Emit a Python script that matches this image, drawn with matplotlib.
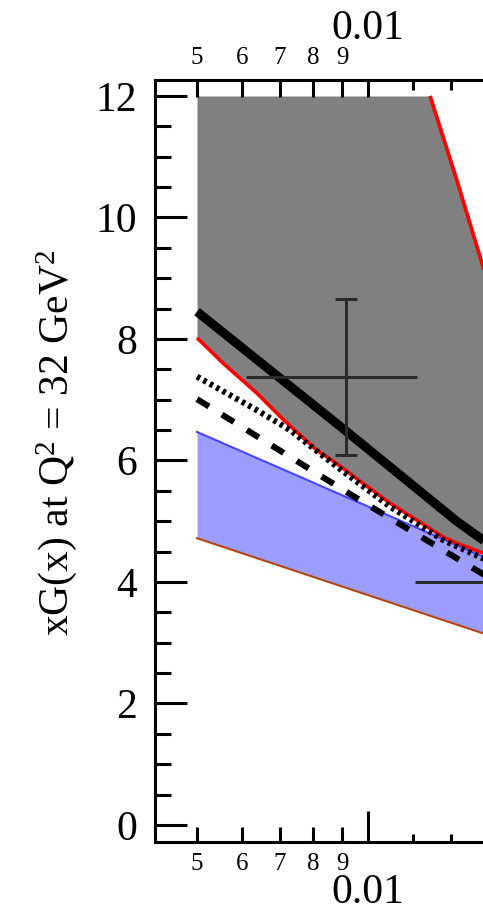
import matplotlib
matplotlib.use("Agg")
import matplotlib.pyplot as plt
from matplotlib.ticker import FixedLocator, FixedFormatter, MultipleLocator
import numpy as np

plt.rcParams['font.family'] = ['Liberation Serif', 'DejaVu Serif']
plt.rcParams['mathtext.fontset'] = 'custom'
plt.rcParams['mathtext.rm'] = 'Liberation Serif'
plt.rcParams['mathtext.it'] = 'Liberation Serif:italic'
plt.rcParams['mathtext.bf'] = 'Liberation Serif:bold'

# ---------------- data ----------------
# red lower edge of the grey band
red_lo_x = [0.005, 0.00556, 0.00637, 0.00710, 0.00812, 0.00881, 0.00981,
            0.01093, 0.01218, 0.01357, 0.01433, 0.016]
red_lo_y = [8.02, 7.60, 7.11, 6.67, 6.17, 5.95, 5.62,
            5.30, 5.02, 4.74, 4.64, 4.47]

# red upper edge of the grey band (visible part; band is cut at 12)
red_hi_x = [0.01286, 0.01433, 0.016]
red_hi_y = [12.0, 10.62, 9.14]
band_top = 12.0

# thick black solid curve
solid_x = [0.005, 0.00905, 0.01251, 0.01433, 0.016]
solid_y = [8.45, 6.52, 5.45, 5.00, 4.68]

# black dotted curve
dot_x = [0.005, 0.00637, 0.00729, 0.00881, 0.01093, 0.01357, 0.016]
dot_y = [7.38, 6.83, 6.50, 5.90, 5.24, 4.69, 4.38]

# black dashed curve
dash_x = [0.005, 0.0094, 0.016]
dash_y = [7.01, 5.42, 4.12]

# blue band
blue_x = [0.005, 0.016]
blue_hi = [6.47, 4.41]
blue_lo = [4.72, 3.15]

# data points with error bars
pt_x = [0.00914, 0.0182]
pt_y = [7.37, 4.00]
pt_xlo = [0.00609, 0.0121]
pt_xhi = [0.01222, 0.0240]
pt_ylo = [6.09, 3.40]
pt_yhi = [8.65, 4.60]

ylabel = r'xG(x) at Q$^2$ = 32 GeV$^2$'
xmajor = [0.01]
xmajor_lbl = ['0.01']
xminor = [0.005, 0.006, 0.007, 0.008, 0.009, 0.012, 0.014]
xminor_lbl = ['5', '6', '7', '8', '9', '', '']

# ---------------- figure ----------------
fig = plt.figure(figsize=(4.83, 9.11), dpi=100)
ax = fig.add_axes([155 / 483, 69 / 911, 328 / 483, 762 / 911])
ax.set_xscale('log')

band_x = np.array(sorted(set(red_lo_x) | set(red_hi_x)))
band_lo = np.interp(np.log(band_x), np.log(red_lo_x), red_lo_y)
band_hi = np.interp(np.log(band_x), np.log(red_hi_x), red_hi_y, left=band_top)

ax.fill_between(band_x, band_lo, band_hi, color='#808080', lw=0, zorder=1)
ax.fill_between(blue_x, blue_lo, blue_hi, color='#9d9dff', lw=0, zorder=1.5)
ax.plot(blue_x, blue_lo, color='#b5460f', lw=1.5, zorder=2)
ax.plot(blue_x, blue_hi, color='#4646ff', lw=1.5, zorder=2)
ax.plot(red_lo_x, red_lo_y, color='#ff0000', lw=2.6, zorder=3,
        solid_capstyle='butt', solid_joinstyle='round')
ax.plot(red_hi_x, red_hi_y, color='#ff0000', lw=2.7, zorder=3, solid_capstyle='butt')
ax.plot(dash_x, dash_y, color='black', lw=4.4, dashes=(2.3, 2.5),
        dash_capstyle='butt', zorder=4)
ax.plot(dot_x, dot_y, color='black', lw=4.3, dashes=(0.58, 0.65),
        dash_capstyle='butt', zorder=4.2)
ax.plot(solid_x, solid_y, color='black', lw=6.5, solid_capstyle='butt',
        solid_joinstyle='round', zorder=5)

px = np.array(pt_x); py = np.array(pt_y)
ax.errorbar(px, py, yerr=[py - np.array(pt_ylo), np.array(pt_yhi) - py],
            fmt='none', ecolor='#2b2b2b', elinewidth=2.2, capsize=7.8,
            capthick=2.2, zorder=6)
ax.errorbar(px, py, xerr=[px - np.array(pt_xlo), np.array(pt_xhi) - px],
            fmt='none', ecolor='#2b2b2b', elinewidth=2.2, capsize=0, zorder=6)

ax.set_xlim(0.004217, 0.01594)
ax.set_ylim(-0.28, 12.263)

for s in ['left', 'top', 'bottom']:
    ax.spines[s].set_linewidth(2.2)
ax.spines['right'].set_visible(False)

ax.set_yticks(range(0, 13, 2))
ax.yaxis.set_minor_locator(MultipleLocator(0.5))
ax.tick_params(axis='y', which='major', direction='in', length=23, width=2.2,
               labelsize=30, pad=13, right=False)
ax.tick_params(axis='y', which='minor', direction='in', length=11.5, width=2.2,
               right=False)

ax.xaxis.set_major_locator(FixedLocator(xmajor))
ax.xaxis.set_major_formatter(FixedFormatter(xmajor_lbl))
ax.xaxis.set_minor_locator(FixedLocator(xminor))
ax.xaxis.set_minor_formatter(FixedFormatter(xminor_lbl))
ax.tick_params(axis='x', which='major', direction='in', length=22.3, width=2.2,
               labelsize=30, pad=23, top=True, labeltop=True)
ax.tick_params(axis='x', which='minor', direction='in', length=11, width=2.2,
               labelsize=18, pad=8, top=True, labeltop=True)

fig.text(0.118, 0.514, ylabel, rotation=90, va='center', ha='center',
         fontsize=30)

fig.canvas.draw()
for t in ax.xaxis.get_major_ticks():
    t.tick2line.set_markersize(12.2)
mt = ax.xaxis.get_minor_ticks()
for t in mt[5:]:
    t.tick1line.set_markersize(5.8)
    t.tick2line.set_markersize(7.2)
for t in mt[:5]:
    t.tick2line.set_markersize(12.2)

fig.savefig('out.png', dpi=100)
